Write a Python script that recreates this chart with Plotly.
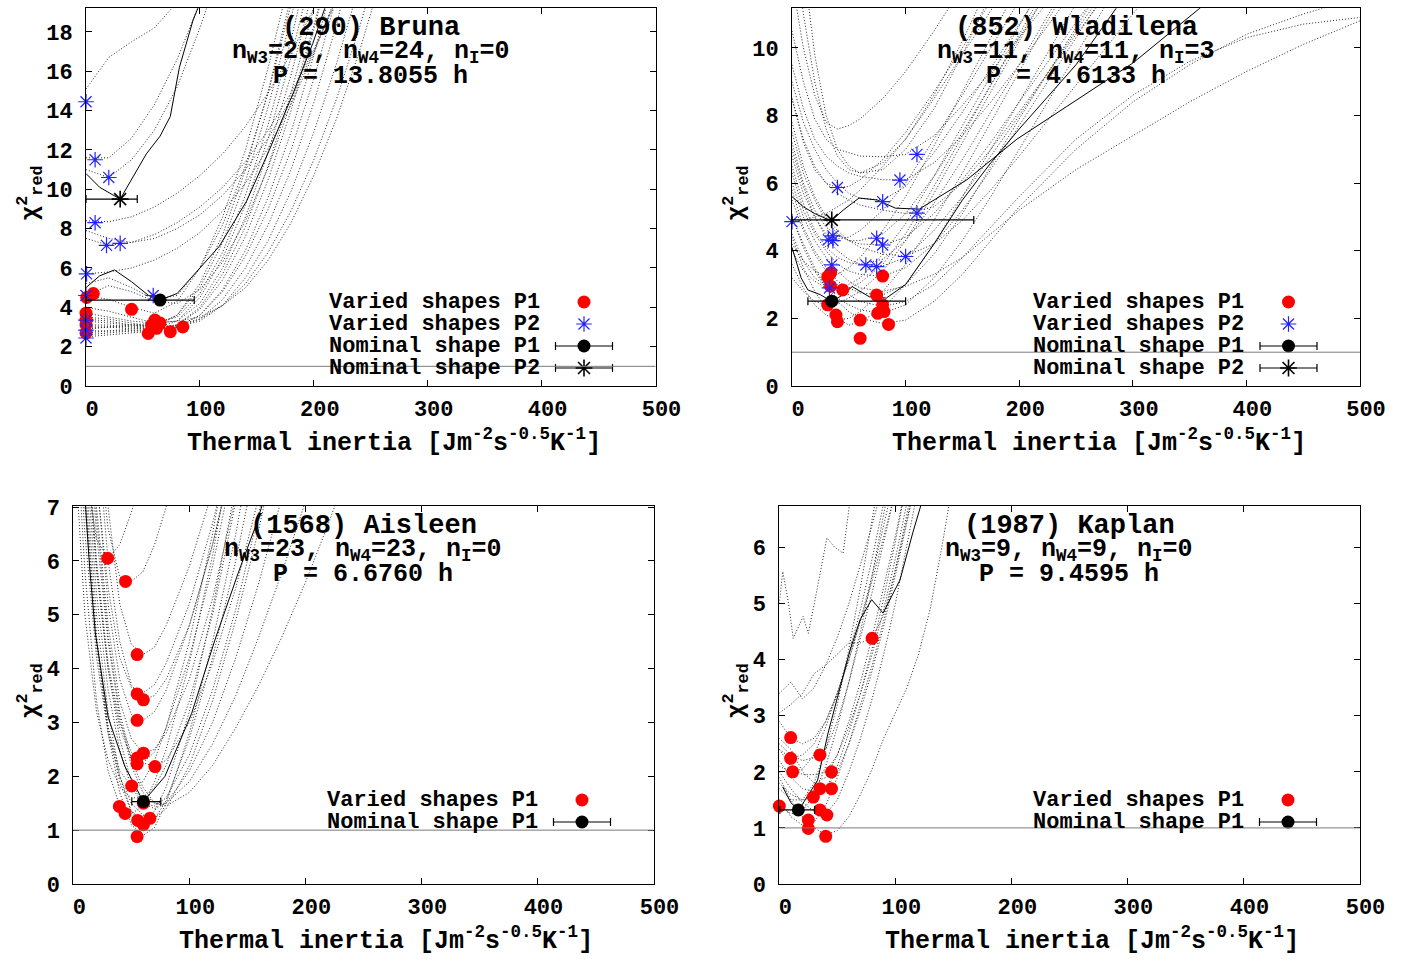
import plotly.graph_objects as go

FIG_W, FIG_H = 1403, 959
FONT = "Liberation Mono, Courier New, monospace"

# ------------------------------------------------------------------
# (290) Bruna
# ------------------------------------------------------------------
bruna_ti_grid = [0, 20, 40, 60, 80, 100, 120, 140, 160, 180, 200, 220, 240, 260]
bruna_varied_curves = [
    [4.6, 4.4, 4.0, 3.7, 4.3, 6.0, 8.6, 12.0, 16.2, 21.0],
    [3.4, 3.3, 3.1, 3.0, 3.6, 5.2, 7.7, 11.0, 15.0, 19.8],
    [2.9, 3.0, 3.0, 3.1, 3.6, 5.0, 7.3, 10.4, 14.2, 18.7, 23.8],
    [3.7, 3.5, 3.3, 3.2, 3.5, 4.7, 6.8, 9.7, 13.3, 17.6, 22.5],
    [2.6, 2.7, 2.8, 2.9, 3.3, 4.5, 6.5, 9.2, 12.6, 16.7, 21.4],
    [4.0, 3.8, 3.5, 3.2, 3.3, 4.2, 6.0, 8.6, 11.9, 15.8, 20.3],
    [3.1, 3.1, 3.0, 2.9, 3.1, 4.0, 5.7, 8.1, 11.2, 14.9, 19.2, 24.0],
    [2.5, 2.6, 2.7, 2.8, 3.1, 3.9, 5.4, 7.6, 10.5, 14.0, 18.1, 22.7],
    [3.5, 3.4, 3.2, 3.0, 3.0, 3.6, 4.9, 6.9, 9.6, 12.9, 16.8, 21.3],
    [2.8, 2.8, 2.8, 2.8, 3.0, 3.6, 4.8, 6.6, 9.0, 12.0, 15.6, 19.8],
    [3.0, 3.0, 2.9, 2.9, 3.0, 3.4, 4.4, 6.0, 8.2, 11.0, 14.4, 18.4, 23.0],
    [3.3, 3.2, 3.1, 3.0, 3.0, 3.3, 4.1, 5.5, 7.4, 9.9, 12.9, 16.4, 20.4],
    [2.7, 2.8, 2.9, 3.0, 3.1, 3.4, 4.1, 5.2, 6.8, 8.9, 11.5, 14.6, 18.2, 22.3],
    [2.9, 3.0, 3.1, 3.2, 3.3, 3.5, 4.1, 5.0, 6.4, 8.3, 10.7, 13.6, 17.0, 20.9],
    [4.6, 5.1, 4.8, 4.3, 4.2, 4.9, 6.3, 8.4, 11.1, 14.4, 18.3, 22.8],
    [5.2, 5.5, 5.0, 4.4, 4.6, 6.0, 8.2, 11.2, 14.9, 19.4],
    [8.4, 8.35, 8.6, 9.1, 9.8, 10.7, 11.8, 13.2, 14.9, 16.9, 19.2, 21.7],
    [7.5, 7.15, 7.3, 7.7, 8.3, 9.1, 10.1, 11.4, 13.0, 14.9, 17.1, 19.6],
    [7.9, 7.5, 7.3, 7.5, 8.0, 8.7, 9.7, 11.0, 12.6, 14.6, 17.0, 19.7],
    [5.7, 5.8, 6.0, 6.4, 7.0, 7.8, 8.9, 10.3, 12.1, 14.3, 16.9, 19.9],
    [11.0, 10.6, 11.5, 13.0, 15.2, 18.2, 21.6],
    [11.6, 11.6, 12.6, 14.3, 16.6, 19.5],
    [15.1, 16.7, 17.5, 18.2, 19.5],
]
bruna_nominal_curves = [
    ([0, 12, 25, 40, 55, 65, 80, 91, 117, 141, 161, 182, 199, 212],
     [5.0, 5.6, 5.9, 5.3, 4.6, 4.37, 4.7, 5.4, 7.1, 9.4, 12.0, 14.9, 17.4, 19.6]),
    ([0, 12, 30, 41, 53, 65, 74, 82, 94, 101],
     [10.8, 10.1, 9.5, 10.6, 11.8, 12.7, 13.7, 16.2, 18.6, 19.6]),
]
bruna_p1_ti = [6.4, 0.6, 40, 0, 0, 0, 0, 60.5, 65, 57.6, 54.6, 62, 74, 85]
bruna_p1_chi2 = [4.7, 4.5, 3.9, 3.7, 3.35, 3.1, 2.7, 3.35, 3.2, 3.1, 2.67, 2.93, 2.76, 3.0]
bruna_p2_ti = [0, 8, 20, 8, 18, 30, 0.5, 59, 0, 0, 0, 0]
bruna_p2_chi2 = [14.45, 11.5, 10.6, 8.3, 7.15, 7.25, 5.7, 4.6, 4.6, 3.35, 2.84, 2.44]
bruna_nom_p1 = dict(ti=[65], chi2=[4.37], minus=[65], plus=[30])
bruna_nom_p2 = dict(ti=[30], chi2=[9.5], minus=[30], plus=[15])

# ------------------------------------------------------------------
# (852) Wladilena
# ------------------------------------------------------------------
wlad_ti_grid = [0, 10, 20, 30, 40, 50, 60, 80, 100, 125, 150, 175, 200, 250,
                300, 350, 400, 450, 500]
wlad_varied_curves = [
    [5.0, 4.2, 3.5, 2.9, 2.5, 2.2, 2.0, 1.85, 1.95, 2.5, 3.3, 4.3, 5.3, 7.0, 8.4, 9.5, 10.4, 11.0, 11.5],
    [5.5, 4.6, 3.9, 3.4, 3.0, 2.7, 2.5, 2.35, 2.5, 3.0, 3.8, 4.7, 5.6, 7.3, 8.6, 9.6, 10.3, 10.7, 10.9],
    [6.0, 5.0, 4.3, 3.8, 3.4, 3.1, 2.9, 2.8, 2.95, 3.3, 3.8, 4.5, 5.2, 6.4, 7.4, 8.4, 9.3, 10.1, 10.8],
    [4.4, 3.5, 2.8, 2.3, 2.0, 1.8, 1.9, 2.3, 3.0, 4.2, 5.6, 7.0, 8.4, 11.3],
    [3.6, 2.9, 2.4, 2.1, 1.95, 2.0, 2.2, 2.8, 3.6, 4.9, 6.3, 7.8, 9.3, 12.3],
    [3.2, 2.8, 2.5, 2.4, 2.45, 2.6, 2.8, 3.4, 4.3, 5.7, 7.2, 8.7, 10.2, 13.2],
    [5.0, 4.1, 3.4, 2.9, 2.6, 2.4, 2.25, 2.15, 2.4, 3.2, 4.3, 5.6, 7.0, 9.8, 12.6],
    [5.8, 4.7, 4.0, 3.5, 3.1, 2.9, 2.75, 2.7, 3.0, 3.9, 5.1, 6.5, 7.9, 10.6, 13.3],
    [6.3, 5.2, 4.5, 4.0, 3.6, 3.4, 3.3, 3.25, 3.5, 4.2, 5.2, 6.4, 7.7, 10.3, 12.9],
    [4.0, 3.4, 3.1, 2.9, 2.85, 2.9, 3.05, 3.6, 4.5, 5.9, 7.4, 8.9, 10.4, 13.4],
    [4.2, 3.7, 3.4, 3.25, 3.3, 3.5, 3.8, 4.6, 5.6, 7.1, 8.7, 10.3, 11.9],
    [6.5, 5.4, 4.6, 4.1, 3.8, 3.65, 3.6, 3.75, 4.3, 5.4, 6.7, 8.1, 9.5, 12.4],
    [7.2, 6.0, 5.2, 4.7, 4.45, 4.3, 4.3, 4.5, 5.1, 6.2, 7.5, 8.9, 10.3, 13.1],
    [7.8, 6.5, 5.6, 5.0, 4.6, 4.3, 4.1, 3.9, 3.85, 4.2, 4.9, 5.8, 6.8, 8.9, 11.0, 13.0],
    [8.5, 7.3, 6.5, 6.0, 5.7, 5.5, 5.35, 5.2, 5.1, 5.3, 6.0, 7.0, 8.1, 10.4, 12.6],
    [9.0, 7.8, 7.0, 6.4, 6.0, 5.7, 5.55, 5.5, 5.9, 6.9, 8.1, 9.4, 10.7, 13.3],
    [10.5, 9.0, 7.9, 7.3, 7.0, 6.9, 6.8, 6.78, 6.85, 7.4, 8.3, 9.3, 10.3, 12.4],
    [12.0, 10.0, 8.6, 7.8, 7.6, 7.7, 7.9, 8.5, 9.3, 10.5, 11.8],
    [14.0, 11.0, 9.0, 7.6, 6.8, 6.4, 6.3, 6.6, 7.3, 8.6, 10.2, 12.0],
    [16.0, 12.5, 9.8, 8.0, 7.0, 6.5, 6.3, 6.4, 7.0, 8.2, 9.8, 11.6],
    [8.5, 7.2, 6.4, 6.0, 5.87, 5.9, 6.1, 6.7, 7.5, 8.7, 10.0, 11.4],
    [6.8, 5.7, 5.0, 4.5, 4.35, 4.4, 4.6, 5.2, 6.0, 7.3, 8.6, 10.0, 11.4],
    [4.86, 4.9, 5.0, 5.1, 5.3, 5.5, 5.8, 6.5, 7.3, 8.5, 9.8, 11.1, 12.4],
    [4.5, 3.7, 3.2, 2.95, 2.9, 3.0, 3.2, 3.9, 4.8, 6.2, 7.7, 9.2, 10.7, 13.6],
    [7.0, 5.9, 5.0, 4.4, 4.0, 3.75, 3.6, 3.55, 3.8, 4.6, 5.6, 6.8, 8.0, 10.5, 12.9],
    [7.5, 6.3, 5.5, 4.9, 4.5, 4.3, 4.2, 4.17, 4.4, 5.1, 6.1, 7.2, 8.4, 10.8, 13.1],
    [9.5, 8.2, 7.3, 6.8, 6.5, 6.3, 6.2, 6.1, 6.1, 6.6, 7.4, 8.4, 9.5, 11.8],
]
wlad_nominal_curves = [
    ([0, 8, 14, 25, 35, 45, 53, 68, 83, 100, 125, 150, 175, 200, 250, 286],
     [4.1, 3.2, 2.84, 2.7, 2.5, 2.7, 2.94, 2.64, 2.6, 3.0, 4.2, 5.5, 6.6, 7.6, 9.5, 11.2]),
    ([0, 10, 20, 30, 35, 45, 59, 75, 91, 112, 154, 198, 242, 300, 360],
     [5.6, 5.3, 5.1, 4.95, 4.9, 5.2, 5.56, 5.5, 5.26, 5.23, 6.1, 7.3, 8.27, 9.55, 11.2]),
]
wlad_p1_ti = [31.4, 34, 44.6, 31.4, 38.7, 40, 60, 60, 74.5, 79.8, 75.5, 81, 79.8, 85, 34]
wlad_p1_chi2 = [3.23, 3.34, 2.84, 2.40, 2.10, 1.90, 1.95, 1.41, 2.69, 2.40, 2.15, 2.20, 3.25, 1.82, 2.95]
wlad_p2_ti = [0, 40, 32, 36, 36, 35, 33, 65, 74.5, 79.8, 74.5, 79.8, 95, 110, 110, 100]
wlad_p2_chi2 = [4.86, 5.87, 4.32, 4.44, 4.30, 3.58, 2.90, 3.58, 4.37, 4.17, 3.53, 5.45, 6.09, 5.11, 6.85, 3.83]
wlad_nom_p1 = dict(ti=[35], chi2=[2.51], minus=[21], plus=[65])
wlad_nom_p2 = dict(ti=[35], chi2=[4.91], minus=[35], plus=[125])

# ------------------------------------------------------------------
# (1568) Aisleen
# ------------------------------------------------------------------
ais_ti_grid = [0, 10, 20, 30, 40, 50, 60, 70, 80, 100, 120, 140, 160, 180, 200, 220, 240]
ais_varied_curves = [
    [12, 7.5, 4.6, 2.8, 1.7, 1.1, 0.9, 1.05, 1.5, 2.8, 4.5, 6.5, 8.9],
    [11, 7.0, 4.4, 2.9, 1.9, 1.35, 1.1, 1.2, 1.55, 2.7, 4.2, 6.0, 8.1],
    [10, 6.5, 4.2, 2.8, 2.0, 1.5, 1.28, 1.22, 1.4, 2.2, 3.4, 4.9, 6.6, 8.6],
    [12, 7.8, 5.0, 3.2, 2.0, 1.35, 1.18, 1.35, 1.8, 3.2, 5.1, 7.4],
    [9.5, 5.8, 3.4, 2.1, 1.45, 1.3, 1.45, 1.9, 2.5, 4.1, 6.1, 8.5],
    [11, 7.2, 4.6, 2.9, 2.1, 1.82, 1.9, 2.3, 2.9, 4.5, 6.5, 8.9],
    [13, 9.0, 6.0, 4.1, 3.0, 2.45, 2.25, 2.18, 2.3, 3.0, 4.1, 5.5, 7.2],
    [12, 8.5, 5.8, 4.0, 2.9, 2.35, 2.25, 2.45, 2.9, 4.2, 5.9, 8.0],
    [14, 10, 7.0, 4.8, 3.4, 2.7, 2.43, 2.5, 2.8, 3.8, 5.3, 7.2],
    [15, 11, 7.6, 5.2, 3.8, 3.15, 3.04, 3.2, 3.6, 4.8, 6.3, 8.2],
    [16, 12, 8.5, 6.0, 4.5, 3.7, 3.42, 3.5, 3.8, 4.8, 6.3, 8.1],
    [14, 10.5, 7.5, 5.5, 4.2, 3.65, 3.55, 3.7, 4.1, 5.2, 6.7, 8.5],
    [18, 13, 9.5, 7.0, 5.2, 4.45, 4.26, 4.4, 4.8, 5.9, 7.3],
    [16, 11.5, 8.5, 6.6, 5.7, 5.62, 5.8, 6.3, 7.0, 8.4],
    [10, 7.8, 6.4, 6.05, 6.3, 6.9, 7.6],
    [14, 9.5, 6.5, 4.5, 3.1, 2.2, 1.7, 1.5, 1.5, 1.9, 2.6, 3.5, 4.6, 5.8, 7.1],
    [15, 10, 6.8, 4.6, 3.2, 2.3, 1.8, 1.5, 1.45, 1.7, 2.2, 2.9, 3.7, 4.6, 5.6, 6.7, 7.9],
    [13, 8.8, 5.9, 4.0, 2.7, 1.9, 1.5, 1.4, 1.5, 2.1, 3.0, 4.2, 5.6, 7.2],
    [12.5, 8.2, 5.4, 3.6, 2.5, 1.8, 1.5, 1.45, 1.6, 2.4, 3.6, 5.1, 6.9, 8.9],
    [8.5, 5.0, 3.2, 2.3, 1.8, 1.6, 1.6, 1.8, 2.2, 3.4, 5.0, 7.0, 9.2],
]
ais_nominal_curves = [
    ([10, 14, 19, 30, 44.5, 60.4, 79, 102, 122, 142, 157, 163],
     [7.2, 5.9, 4.66, 3.1, 2.18, 1.53, 2.0, 3.17, 4.53, 5.77, 6.64, 7.05]),
]
ais_p1_ti = [29.6, 45, 55, 55, 60.4, 55, 60.4, 55, 55, 70.4, 50.3, 39.7, 44.6, 60.4, 55.5, 60.4, 66, 55]
ais_p1_chi2 = [6.05, 5.62, 4.26, 3.53, 3.42, 3.04, 2.43, 2.34, 2.23, 2.18, 1.82, 1.44, 1.31, 1.50, 1.18, 1.10, 1.22, 0.88]
ais_p2_ti = []
ais_p2_chi2 = []
ais_nom_p1 = dict(ti=[60.4], chi2=[1.53], minus=[10], plus=[15])

# ------------------------------------------------------------------
# (1987) Kaplan
# ------------------------------------------------------------------
kap_ti_grid = [0, 10, 20, 30, 40, 50, 60, 70, 80, 90, 100, 110, 120, 130, 140, 150]
kap_varied_curves = [
    [1.9, 1.5, 1.2, 1.0, 0.88, 0.95, 1.2, 1.6, 2.05, 2.6, 3.05, 3.5, 4.1, 4.9, 6.0, 7.2],
    [1.5, 1.2, 1.05, 1.1, 1.4, 1.9, 2.5, 3.2, 3.9, 4.7, 5.6, 6.6, 7.6],
    [2.0, 1.7, 1.45, 1.3, 1.25, 1.5, 2.0, 2.6, 3.3, 4.1, 5.0, 6.0, 7.1],
    [1.8, 1.6, 1.5, 1.55, 1.7, 2.1, 2.7, 3.4, 4.2, 5.1, 6.1, 7.2],
    [2.2, 1.9, 1.7, 1.65, 1.7, 2.0, 2.5, 3.1, 3.8, 4.6, 5.5, 6.4, 7.4],
    [2.4, 2.1, 1.95, 1.95, 2.0, 2.3, 2.8, 3.4, 4.1, 4.9, 5.8, 6.8],
    [2.5, 2.3, 2.2, 2.25, 2.4, 2.9, 3.6, 4.4, 5.2, 6.1, 7.0],
    [1.39, 1.25, 1.3, 1.6, 2.1, 2.8, 3.6, 4.5, 5.5, 6.6, 7.7],
    [2.9, 2.6, 2.5, 2.6, 2.9, 3.4, 4.0, 4.7, 5.5, 6.4, 7.3],
    [2.4, 2.25, 2.3, 2.5, 2.9, 3.4, 4.0, 4.7, 5.4, 6.2, 7.0],
    [2.1, 2.0, 2.05, 2.3, 2.8, 3.4, 4.1, 4.9, 5.8, 6.8],
    [3.05, 3.2, 3.4, 3.75, 3.9, 4.1, 4.3, 4.3, 4.38, 4.8, 5.6, 6.5, 7.4],
    [3.4, 3.6, 3.3, 3.5, 3.9, 4.4, 5.0, 5.7, 6.4, 7.2],
    [1.7, 1.5, 1.5, 1.8, 2.4, 3.2, 4.2, 5.3, 6.5, 7.7],
    [2.6, 2.4, 2.0, 1.8, 1.9, 2.3, 2.9, 3.6, 4.4, 5.3, 6.2, 7.2],
]
kap_irregular_ti = [0, 3, 8, 12, 20.5, 25, 33, 41, 48, 55, 62]
kap_irregular_chi2 = [5.0, 5.57, 5.0, 4.38, 4.77, 4.47, 5.3, 6.17, 6.0, 5.9, 7.0]
kap_nominal_curves = [
    ([3, 10, 16.4, 20.5, 33, 42, 49.5, 61, 69.6, 79.6, 89.4, 104, 115, 122.7],
     [1.73, 1.45, 1.32, 1.44, 1.85, 2.69, 3.28, 4.17, 4.71, 5.07, 4.83, 5.42, 6.26, 6.8]),
]
kap_p1_ti = [0, 9.8, 9.8, 11.5, 35, 35, 29.3, 45, 45, 35, 41, 25, 25, 40, 80]
kap_p1_chi2 = [1.39, 2.61, 2.24, 2.0, 2.3, 1.7, 1.55, 2.0, 1.7, 1.32, 1.23, 1.14, 0.99, 0.85, 4.38]
kap_p2_ti = []
kap_p2_chi2 = []
kap_nom_p1 = dict(ti=[16.4], chi2=[1.32], minus=[16], plus=[14])

# ------------------------------------------------------------------
# layout of the four panels (pixel boxes: left, right, top, bottom)
# ------------------------------------------------------------------
panels = [
    dict(box=(86.0, 655.5, 8.3, 386.0), ymax=19.2, dtick=2,
         grid=bruna_ti_grid, varied=bruna_varied_curves, extra=[],
         nominal=bruna_nominal_curves,
         p1=(bruna_p1_ti, bruna_p1_chi2), p2=(bruna_p2_ti, bruna_p2_chi2),
         nom_p1=bruna_nom_p1, nom_p2=bruna_nom_p2,
         title=["(290) Bruna",
                "n<sub>W3</sub>=26, n<sub>W4</sub>=24, n<sub>I</sub>=0",
                "P = 13.8055 h"]),
    dict(box=(792.0, 1360.0, 8.3, 386.0), ymax=11.17, dtick=2,
         grid=wlad_ti_grid, varied=wlad_varied_curves, extra=[],
         nominal=wlad_nominal_curves,
         p1=(wlad_p1_ti, wlad_p1_chi2), p2=(wlad_p2_ti, wlad_p2_chi2),
         nom_p1=wlad_nom_p1, nom_p2=wlad_nom_p2,
         title=["(852) Wladilena",
                "n<sub>W3</sub>=11, n<sub>W4</sub>=11, n<sub>I</sub>=3",
                "P = 4.6133 h"]),
    dict(box=(73.3, 653.5, 506.0, 884.0), ymax=7.02, dtick=1,
         grid=ais_ti_grid, varied=ais_varied_curves, extra=[],
         nominal=ais_nominal_curves,
         p1=(ais_p1_ti, ais_p1_chi2), p2=(ais_p2_ti, ais_p2_chi2),
         nom_p1=ais_nom_p1, nom_p2=None,
         title=["(1568) Aisleen",
                "n<sub>W3</sub>=23, n<sub>W4</sub>=23, n<sub>I</sub>=0",
                "P = 6.6760 h"]),
    dict(box=(779.3, 1359.5, 506.0, 884.0), ymax=6.74, dtick=1,
         grid=kap_ti_grid, varied=kap_varied_curves,
         extra=[(kap_irregular_ti, kap_irregular_chi2)],
         nominal=kap_nominal_curves,
         p1=(kap_p1_ti, kap_p1_chi2), p2=(kap_p2_ti, kap_p2_chi2),
         nom_p1=kap_nom_p1, nom_p2=None,
         title=["(1987) Kaplan",
                "n<sub>W3</sub>=9, n<sub>W4</sub>=9, n<sub>I</sub>=0",
                "P = 9.4595 h"]),
]

X_TITLE = "Thermal inertia [Jm<sup>-2</sup>s<sup>-0.5</sup>K<sup>-1</sup>]"
Y_TITLE = "\u03c7<sup>2</sup><sub>red</sub>"

RED = "#ff0000"
BLUE = "#2222ff"
DOT_GREY = "#262626"
REF_GREY = "#7a7a7a"
CHI2_REFERENCE = 1.0


def fx(px):
    return px / FIG_W


def fy(py):
    return 1 - py / FIG_H


def font(size):
    return dict(family=FONT, size=size, color="black", weight="bold")


fig = go.Figure()
layout = dict(
    width=FIG_W, height=FIG_H, autosize=False,
    margin=dict(l=0, r=0, t=0, b=0, pad=0, autoexpand=False),
    paper_bgcolor="white", plot_bgcolor="rgba(0,0,0,0)",
    showlegend=False, hovermode=False,
    annotations=[], shapes=[],
)

for i, p in enumerate(panels, start=1):
    sfx = "" if i == 1 else str(i)
    xa, ya = "x" + sfx, "y" + sfx
    left, right, top, bottom = p["box"]

    axis_common = dict(
        showline=True, linecolor="black", linewidth=1, mirror="ticks",
        ticks="inside", ticklen=6, tickwidth=1, tickcolor="black",
        showgrid=False, zeroline=False, tickfont=font(22), fixedrange=True,
        automargin=False,
    )
    layout["xaxis" + sfx] = dict(
        axis_common, domain=[fx(left), fx(right)], range=[0, 500],
        tick0=0, dtick=100, anchor=ya, ticklabelshift=6, ticklabelstandoff=3,
    )
    layout["yaxis" + sfx] = dict(
        axis_common, domain=[fy(bottom), fy(top)], range=[0, p["ymax"]],
        tick0=0, dtick=p["dtick"], anchor=xa, ticklabelstandoff=8,
    )

    # dotted chi^2 curves of the varied shapes
    for chi2 in p["varied"]:
        fig.add_trace(go.Scatter(
            x=p["grid"][:len(chi2)], y=chi2, mode="lines",
            line=dict(color=DOT_GREY, width=1, dash="1px,2px"),
            xaxis=xa, yaxis=ya, hoverinfo="skip"))
    for ti, chi2 in p["extra"]:
        fig.add_trace(go.Scatter(
            x=ti, y=chi2, mode="lines",
            line=dict(color=DOT_GREY, width=1, dash="1px,2px"),
            xaxis=xa, yaxis=ya, hoverinfo="skip"))
    # solid curves of the nominal shape
    for ti, chi2 in p["nominal"]:
        fig.add_trace(go.Scatter(
            x=ti, y=chi2, mode="lines", line=dict(color="black", width=1),
            xaxis=xa, yaxis=ya, hoverinfo="skip"))

    # reference level chi^2 = 1
    layout["shapes"].append(dict(
        type="line", xref=xa + " domain", yref=ya, x0=0, x1=1,
        y0=CHI2_REFERENCE, y1=CHI2_REFERENCE,
        line=dict(color=REF_GREY, width=1), layer="above"))

    # minima: varied shapes P1 / P2
    fig.add_trace(go.Scatter(
        x=p["p1"][0], y=p["p1"][1], mode="markers", cliponaxis=False,
        marker=dict(color=RED, size=13, line=dict(width=0)),
        xaxis=xa, yaxis=ya))
    if p["p2"][0]:
        fig.add_trace(go.Scatter(
            x=p["p2"][0], y=p["p2"][1], mode="markers", cliponaxis=False,
            marker=dict(symbol="asterisk", size=13,
                        line=dict(color=BLUE, width=1.2)),
            xaxis=xa, yaxis=ya))
    # nominal shape minima with their ranges
    n1 = p["nom_p1"]
    fig.add_trace(go.Scatter(
        x=n1["ti"], y=n1["chi2"], mode="markers", cliponaxis=False,
        marker=dict(color="black", size=13),
        error_x=dict(type="data", symmetric=False, array=n1["plus"],
                     arrayminus=n1["minus"], color="black", thickness=1.2, width=4),
        xaxis=xa, yaxis=ya))
    n2 = p["nom_p2"]
    if n2:
        fig.add_trace(go.Scatter(
            x=n2["ti"], y=n2["chi2"], mode="markers", cliponaxis=False,
            marker=dict(symbol="asterisk", size=14,
                        line=dict(color="black", width=1.6)),
            error_x=dict(type="data", symmetric=False, array=n2["plus"],
                         arrayminus=n2["minus"], color="black", thickness=1.2, width=4),
            xaxis=xa, yaxis=ya))

    # panel title (object, band counts, period)
    cx = (left + right) / 2
    for k, (txt, size) in enumerate(zip(p["title"], (27, 25, 25))):
        layout["annotations"].append(dict(
            text=txt, x=fx(cx), y=fy(top + 20 + 24 * k), xref="paper", yref="paper",
            xanchor="center", yanchor="middle", showarrow=False, font=font(size)))
    # axis titles
    layout["annotations"].append(dict(
        text=X_TITLE, x=fx(cx + 23), y=fy(bottom + 55), xref="paper", yref="paper",
        xanchor="center", yanchor="middle", showarrow=False, font=font(25)))
    layout["annotations"].append(dict(
        text=Y_TITLE, x=fx(30 if left < 700 else 736), y=fy((top + bottom) / 2 - 4),
        xref="paper", yref="paper", textangle=-90,
        xanchor="center", yanchor="middle", showarrow=False, font=font(24)))

    # key, drawn in pixel space on the overlay axes
    rows = [("Varied shapes P1", "p1"), ("Varied shapes P2", "p2"),
            ("Nominal shape P1", "n1"), ("Nominal shape P2", "n2")]
    if n2 is None:
        rows = [rows[0], rows[2]]
    for r, (label, kind) in enumerate(rows):
        ry = bottom - 84 + 22 * r
        layout["annotations"].append(dict(
            text=label, x=fx(right - 114), y=fy(ry), xref="paper", yref="paper",
            xanchor="right", yanchor="middle", showarrow=False, font=font(22)))
        kx = right - 71.5
        if kind == "p1":
            mk = dict(color=RED, size=13)
            err = None
        elif kind == "p2":
            mk = dict(symbol="asterisk", size=13, line=dict(color=BLUE, width=1.2))
            err = None
        elif kind == "n1":
            mk = dict(color="black", size=13)
            err = dict(type="constant", value=28.5, color="black", thickness=1.2, width=4)
        else:
            mk = dict(symbol="asterisk", size=14, line=dict(color="black", width=1.6))
            err = dict(type="constant", value=28.5, color="black", thickness=1.2, width=4)
        fig.add_trace(go.Scatter(
            x=[kx], y=[ry], mode="markers", marker=mk, error_x=err,
            cliponaxis=False, xaxis="x5", yaxis="y5"))

layout["xaxis5"] = dict(domain=[0, 1], range=[0, FIG_W], visible=False,
                        fixedrange=True, anchor="y5", automargin=False)
layout["yaxis5"] = dict(domain=[0, 1], range=[FIG_H, 0], visible=False,
                        fixedrange=True, anchor="x5", automargin=False)

fig.update_layout(**layout)
fig.write_html(
    "out.html",
    config={"displayModeBar": False, "responsive": False},
    default_width=f"{FIG_W}px", default_height=f"{FIG_H}px",
    post_script="document.body.style.margin='0';document.body.style.overflow='hidden';",
)
